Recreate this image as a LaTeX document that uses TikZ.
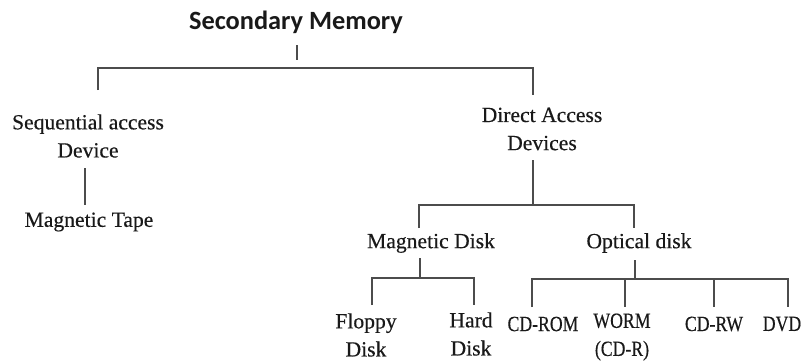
\documentclass[tikz,border=0pt]{standalone}
\usepackage{fontspec}
\setmainfont{Liberation Serif}[FakeBold=0.4]
\newfontfamily\headfont{Carlito}
\newfontfamily\narrowfont{Liberation Serif}[FakeStretch=0.82, FakeBold=0.4]

\begin{document}
\begin{tikzpicture}[x=.02cm, y=-.02cm,
  every node/.style={font=\fontsize{12.3}{16}\selectfont, align=center, text=black!90, inner sep=0pt},
  capsnode/.style={font=\narrowfont\fontsize{12.3}{16}\selectfont},
  link/.style={draw=black!70, line width=1.1pt}]
  \useasboundingbox (0,0) rectangle (803,362);

  % labels
  \node (secMem) at (296,22) {\headfont\bfseries\fontsize{15}{18}\selectfont Secondary Memory};
  \node (seqDev) at (88,136) {Sequential access\\Device};
  \node (magTape) at (89,222) {Magnetic Tape};
  \node (dirDev) at (542,129) {Direct Access\\Devices};
  \node (magDisk) at (431,243) {Magnetic Disk};
  \node (optDisk) at (639,243) {Optical disk};
  \node (floppy) at (366,335) {Floppy\\Disk};
  \node (hard) at (471,334) {Hard\\Disk};
  \node[capsnode] (cdRom) at (543,324) {CD-ROM};
  \node[capsnode] (worm) at (622,337) {WORM\\(CD-R)};
  \node[capsnode] (cdRw) at (714,324) {CD-RW};
  \node[capsnode] (dvd) at (782,324) {DVD};

  % junction points
  \coordinate (rootTick) at (297,45);
  \coordinate (rootEnd) at (297,60);
  \coordinate (barOne) at (0,68);
  \coordinate (seqTop) at (98,90);
  \coordinate (dirTop) at (533,95);
  \coordinate (seqBot) at (85,168);
  \coordinate (tapeTop) at (85,205);
  \coordinate (dirBot) at (533,160);
  \coordinate (barTwo) at (533,205);
  \coordinate (magTop) at (419,228);
  \coordinate (optTop) at (634,228);
  \coordinate (magBot) at (420,258);
  \coordinate (barThree) at (420,278);
  \coordinate (floppyTop) at (372,305);
  \coordinate (hardTop) at (474,305);
  \coordinate (optBot) at (635,260);
  \coordinate (barFour) at (635,279);
  \coordinate (cdRomTop) at (532,307);
  \coordinate (wormTop) at (625,307);
  \coordinate (cdRwTop) at (714,307);
  \coordinate (dvdTop) at (788,307);

  % secondary memory
  \draw[link] (rootTick) -- (rootEnd);
  \draw[link] (seqTop) -- (seqTop |- barOne) -- (dirTop |- barOne) -- (dirTop);

  % sequential access
  \draw[link] (seqBot) -- (tapeTop);

  % direct access
  \draw[link] (dirBot) -- (barTwo);
  \draw[link] (magTop) -- (magTop |- barTwo) -- (optTop |- barTwo) -- (optTop);

  % magnetic disk
  \draw[link] (magBot) -- (barThree);
  \draw[link] (floppyTop) -- (floppyTop |- barThree) -- (hardTop |- barThree) -- (hardTop);

  % optical disk
  \draw[link] (optBot) -- (barFour);
  \draw[link] (cdRomTop) -- (cdRomTop |- barFour) -- (dvdTop |- barFour) -- (dvdTop);
  \draw[link] (wormTop |- barFour) -- (wormTop);
  \draw[link] (cdRwTop |- barFour) -- (cdRwTop);
\end{tikzpicture}
\end{document}
